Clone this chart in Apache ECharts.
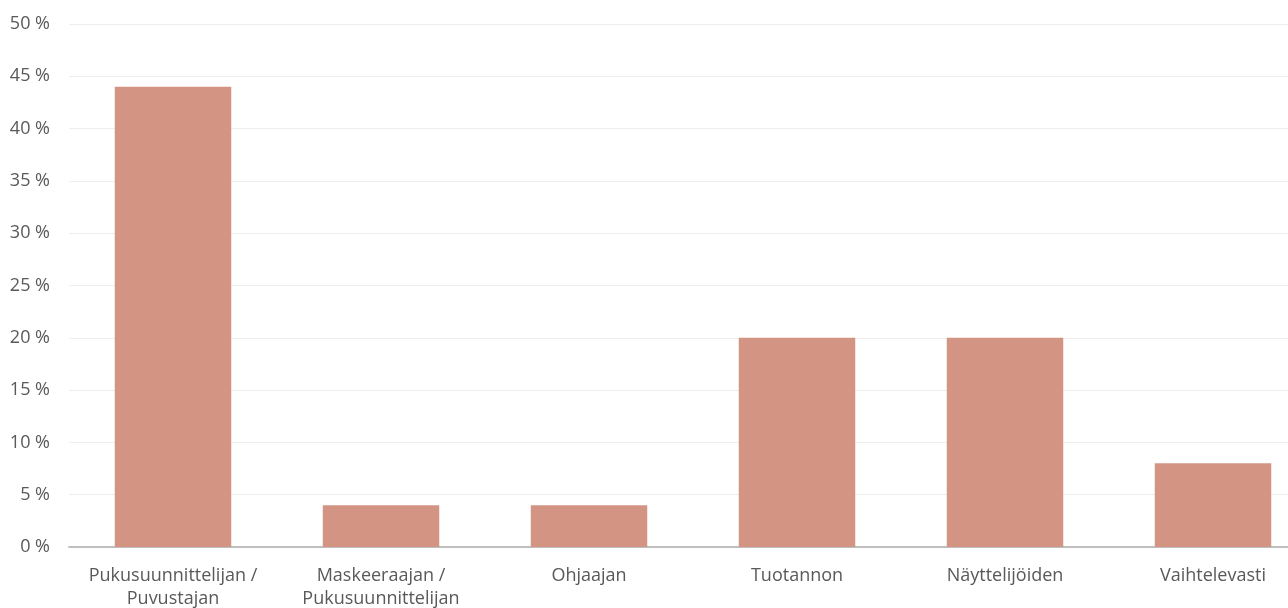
<!DOCTYPE html>
<html>
<head>
<meta charset="utf-8">
<script src="https://cdn.jsdelivr.net/npm/echarts@6/dist/echarts.min.js"></script>
<style>
  html, body { margin: 0; padding: 0; background: #fff; overflow: hidden; }
  /* the plot runs past the right edge of the picture, so the canvas is wider than the window */
  #chart { width: 1317px; height: 608px; }
</style>
</head>
<body>
<div id="chart"></div>
<script>
  // categories and values (percent)
  var categories = [
    'Pukusuunnittelijan /\nPuvustajan',
    'Maskeeraajan /\nPukusuunnittelijan',
    'Ohjaajan',
    'Tuotannon',
    'Näyttelijöiden',
    'Vaihtelevasti'
  ];
  var shares = [44, 4, 4, 20, 20, 8];

  var chart = echarts.init(document.getElementById('chart'));
  chart.setOption({
    animation: false,
    textStyle: { fontFamily: 'Open Sans' },
    grid: { left: 69, right: 0, top: 24, bottom: 61, outerBoundsMode: 'none' },
    xAxis: {
      type: 'category',
      data: categories,
      axisLine: { lineStyle: { color: '#bfbfbf', width: 2 } },
      axisTick: { show: false },
      axisLabel: {
        color: '#595959',
        fontSize: 18,
        lineHeight: 23,
        margin: 17,
        interval: 0
      }
    },
    yAxis: {
      type: 'value',
      min: 0,
      max: 50,
      interval: 5,
      axisLine: { show: false },
      axisTick: { show: false },
      splitLine: { lineStyle: { color: '#eeeeee', width: 1 } },
      axisLabel: {
        color: '#595959',
        fontSize: 18,
        margin: 19,
        formatter: '{value} %'
      }
    },
    series: [{
      type: 'bar',
      data: shares,
      barWidth: '56%',
      itemStyle: { color: '#d39483' }
    }]
  });
</script>
</body>
</html>
